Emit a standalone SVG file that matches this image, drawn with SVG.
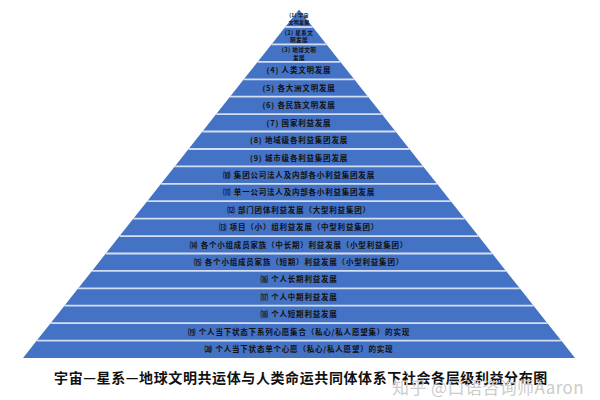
<svg xmlns="http://www.w3.org/2000/svg" width="600" height="400" viewBox="0 0 600 400">
<style>
.l{fill:#4472c4}
.s{stroke:#d3def2;stroke-width:1.8}
.t{font-family:"Noto Sans CJK SC","Noto Sans",sans-serif;font-weight:bold;font-size:7.5px;letter-spacing:0.8px;text-anchor:middle;fill:#111}
.t5{font-size:5px;letter-spacing:0.3px}
.t6{font-size:5.6px;letter-spacing:0.4px}
.cap{font-family:"Noto Sans CJK SC","Noto Sans",sans-serif;font-weight:bold;font-size:14px;letter-spacing:0.6px;text-anchor:middle;fill:#111}
.wm{font-family:"Noto Sans CJK SC","Noto Sans",sans-serif;font-size:17px;letter-spacing:0.4px;fill:#cccccc}
</style>
<rect width="600" height="400" fill="#ffffff"/>
<g id="layer1"><polygon class="l" points="299,9.6 312.78,27 285.22,27"/><text class="t t5" x="299" y="16.5">(1) 宇宙</text><text class="t t5" x="299" y="24">文明发展</text></g>
<g id="layer2"><polygon class="l" points="285.22,27 312.78,27 326.57,44.4 271.43,44.4"/><line class="s" x1="285.22" y1="27" x2="312.78" y2="27"/><text class="t t6" x="299" y="34.5">(2) 星系文</text><text class="t t6" x="299" y="42">明发展</text></g>
<g id="layer3"><polygon class="l" points="271.43,44.4 326.57,44.4 340.43,61.9 257.57,61.9"/><line class="s" x1="271.43" y1="44.4" x2="326.57" y2="44.4"/><text class="t t6" x="299" y="51.5">(3) 地球文明</text><text class="t t6" x="299" y="59.5">发展</text></g>
<g id="layer4"><polygon class="l" points="257.57,61.9 340.43,61.9 354.22,79.3 243.78,79.3"/><line class="s" x1="257.57" y1="61.9" x2="340.43" y2="61.9"/><text class="t" x="299" y="73.4">(4) 人类文明发展</text></g>
<g id="layer5"><polygon class="l" points="243.78,79.3 354.22,79.3 368,96.7 230,96.7"/><line class="s" x1="243.78" y1="79.3" x2="354.22" y2="79.3"/><text class="t" x="299" y="90.8">(5) 各大洲文明发展</text></g>
<g id="layer6"><polygon class="l" points="230,96.7 368,96.7 381.78,114.1 216.22,114.1"/><line class="s" x1="230" y1="96.7" x2="368" y2="96.7"/><text class="t" x="299" y="108.2">(6) 各民族文明发展</text></g>
<g id="layer7"><polygon class="l" points="216.22,114.1 381.78,114.1 395.57,131.5 202.43,131.5"/><line class="s" x1="216.22" y1="114.1" x2="381.78" y2="114.1"/><text class="t" x="299" y="125.6">(7) 国家利益发展</text></g>
<g id="layer8"><polygon class="l" points="202.43,131.5 395.57,131.5 409.43,149 188.57,149"/><line class="s" x1="202.43" y1="131.5" x2="395.57" y2="131.5"/><text class="t" x="299" y="143">(8) 地域级各利益集团发展</text></g>
<g id="layer9"><polygon class="l" points="188.57,149 409.43,149 423.22,166.4 174.78,166.4"/><line class="s" x1="188.57" y1="149" x2="409.43" y2="149"/><text class="t" x="299" y="160.5">(9) 城市级各利益集团发展</text></g>
<g id="layer10"><polygon class="l" points="174.78,166.4 423.22,166.4 437,183.8 161,183.8"/><line class="s" x1="174.78" y1="166.4" x2="423.22" y2="166.4"/><text class="t" x="299" y="177.9">⑽ 集团公司法人及内部各小利益集团发展</text></g>
<g id="layer11"><polygon class="l" points="161,183.8 437,183.8 450.79,201.2 147.21,201.2"/><line class="s" x1="161" y1="183.8" x2="437" y2="183.8"/><text class="t" x="299" y="195.3">⑾ 单一公司法人及内部各小利益集团发展</text></g>
<g id="layer12"><polygon class="l" points="147.21,201.2 450.79,201.2 464.57,218.6 133.43,218.6"/><line class="s" x1="147.21" y1="201.2" x2="450.79" y2="201.2"/><text class="t" x="299" y="212.7">⑿ 部门团体利益发展（大型利益集团）</text></g>
<g id="layer13"><polygon class="l" points="133.43,218.6 464.57,218.6 478.43,236.1 119.57,236.1"/><line class="s" x1="133.43" y1="218.6" x2="464.57" y2="218.6"/><text class="t" x="299" y="230.1">⒀ 项目（小）组利益发展（中型利益集团）</text></g>
<g id="layer14"><polygon class="l" points="119.57,236.1 478.43,236.1 492.22,253.5 105.78,253.5"/><line class="s" x1="119.57" y1="236.1" x2="478.43" y2="236.1"/><text class="t" x="299" y="247.6">⒁ 各个小组成员家族（中长期）利益发展（小型利益集团）</text></g>
<g id="layer15"><polygon class="l" points="105.78,253.5 492.22,253.5 506,270.9 92,270.9"/><line class="s" x1="105.78" y1="253.5" x2="492.22" y2="253.5"/><text class="t" x="299" y="265">⒂ 各个小组成员家族（短期）利益发展（小型利益集团）</text></g>
<g id="layer16"><polygon class="l" points="92,270.9 506,270.9 519.79,288.3 78.21,288.3"/><line class="s" x1="92" y1="270.9" x2="506" y2="270.9"/><text class="t" x="299" y="282.4">⒃ 个人长期利益发展</text></g>
<g id="layer17"><polygon class="l" points="78.21,288.3 519.79,288.3 533.57,305.7 64.43,305.7"/><line class="s" x1="78.21" y1="288.3" x2="519.79" y2="288.3"/><text class="t" x="299" y="299.8">⒄ 个人中期利益发展</text></g>
<g id="layer18"><polygon class="l" points="64.43,305.7 533.57,305.7 547.43,323.2 50.57,323.2"/><line class="s" x1="64.43" y1="305.7" x2="533.57" y2="305.7"/><text class="t" x="299" y="317.2">⒅ 个人短期利益发展</text></g>
<g id="layer19"><polygon class="l" points="50.57,323.2 547.43,323.2 561.22,340.6 36.78,340.6"/><line class="s" x1="50.57" y1="323.2" x2="547.43" y2="323.2"/><text class="t" x="299" y="334.7">⒆ 个人当下状态下系列心愿集合（私心/私人愿望集）的实现</text></g>
<g id="layer20"><polygon class="l" points="36.78,340.6 561.22,340.6 575,358 23,358"/><line class="s" x1="36.78" y1="340.6" x2="561.22" y2="340.6"/><text class="t" x="299" y="352.1">⒇ 个人当下状态单个心愿（私心/私人愿望）的实现</text></g>
<g id="caption"><text class="cap" x="301" y="383">宇宙—星系—地球文明共运体与人类命运共同体体系下社会各层级利益分布图</text></g>
<g id="watermark"><text class="wm" x="392" y="394">知乎 @口语咨询师Aaron</text></g>
</svg>
